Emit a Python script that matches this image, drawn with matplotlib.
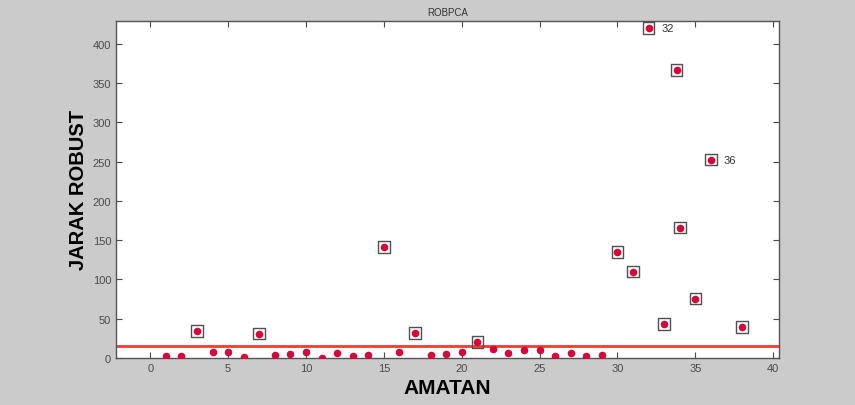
import numpy as np
import matplotlib.pyplot as plt

plt.rcParams['font.family'] = ['Liberation Sans', 'DejaVu Sans']

obs = [1, 2, 3, 4, 5, 6, 7, 8, 9, 10, 11, 12, 13, 14, 15, 16, 17, 18, 19,
       20, 21, 22, 23, 24, 25, 26, 27, 28, 29, 30, 31, 32, 33, 33.8, 34,
       35, 36, 38]
jarak = [2.1, 3, 34.6, 7.3, 7.3, 1, 31, 4.3, 5.6, 7.7, 0.5, 6.4, 2.6, 3.4,
         141, 8.1, 32, 3.4, 5.6, 7.3, 20, 10.7, 6, 9.8, 9.8, 2.6, 6.8, 2.6,
         4.3, 134.6, 109.8, 419.6, 43, 366.3, 165.8, 75.6, 252.5, 39.7]
cutoff = 15.0
labelled = [32, 36]

obs = np.asarray(obs)
jarak = np.asarray(jarak)
outlier = jarak > cutoff

fig = plt.figure(figsize=(8.55, 4.06), dpi=100)
fig.patch.set_facecolor('#cbcbcb')
ax = fig.add_axes([0.1357, 0.116, 0.775, 0.830])

ax.axhline(cutoff, color='#f53a2e', lw=2, zorder=1)
ax.scatter(obs[outlier], jarak[outlier], marker='s', s=70,
           facecolors='none', edgecolors='#505050', linewidths=1.0, zorder=2)
ax.scatter(obs, jarak, s=20, color='#d4083a', zorder=3)

for k in labelled:
    i = int(np.argmin(np.abs(obs - k)))
    ax.text(obs[i] + 0.8, jarak[i], str(k), fontsize=8, color='#333333',
            va='center', ha='left')

ax.set_xlim(-2.2, 40.35)
ax.set_ylim(0, 429)
ax.set_xticks(np.arange(0, 41, 5))
ax.set_yticks(np.arange(0, 401, 50))
ax.tick_params(direction='in', top=True, right=True, length=4,
               labelsize=8, colors='#4a4a4a', width=0.8)
for s in ax.spines.values():
    s.set_color('#555555')
    s.set_linewidth(1.0)

ax.set_title('ROBPCA', fontsize=7, color='#333333', pad=4)
ax.set_xlabel('AMATAN', fontsize=15, fontweight='bold', labelpad=4)
ax.set_ylabel('JARAK ROBUST', fontsize=14.5, fontweight='bold', labelpad=3)

plt.savefig('out.png', dpi=100, facecolor=fig.get_facecolor())
